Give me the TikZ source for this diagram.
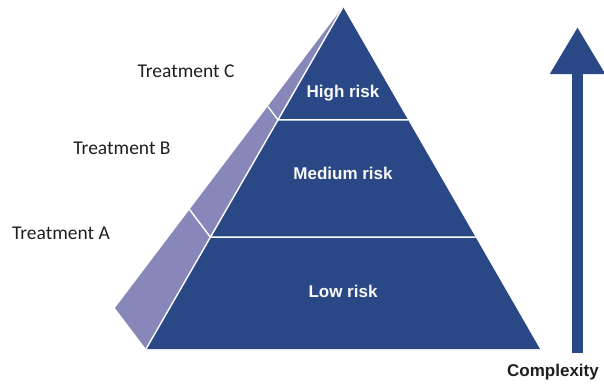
\documentclass[tikz,border=0pt]{standalone}
\usepackage{fontspec}
\setmainfont{Liberation Sans}
\newfontfamily\labelfont{Carlito}
\usetikzlibrary{calc,arrows.meta}

\definecolor{riskblue}{RGB}{42,72,134}
\definecolor{sideblue}{RGB}{135,135,186}
\definecolor{darktext}{RGB}{30,30,30}

\begin{document}
\begin{tikzpicture}[x=1pt, y=-1pt,
    level/.style={font=\bfseries\fontsize{17}{20}\selectfont, text=white!95!gray},
    treat/.style={font=\labelfont\fontsize{19.5}{22}\selectfont, text=darktext},
    divider/.style={white, line width=1.4pt}]
    \useasboundingbox (0,0) rectangle (604,384);
    % front face and side face of the pyramid
    \coordinate (A) at (343,7);
    \coordinate (B) at (146,349);
    \coordinate (C) at (540,349);
    \coordinate (S) at (115,308);
    \fill[sideblue] (A)--(S)--(B)--cycle;
    \fill[riskblue] (A)--(B)--(C)--cycle;
    % level boundaries
    \coordinate (P1) at ($(A)!0.330!(B)$);
    \coordinate (Q1) at ($(A)!0.330!(C)$);
    \coordinate (R1) at ($(A)!0.330!(S)$);
    \coordinate (P2) at ($(A)!0.673!(B)$);
    \coordinate (Q2) at ($(A)!0.673!(C)$);
    \coordinate (R2) at ($(A)!0.673!(S)$);
    \draw[divider] (A)--(B);
    \draw[divider] (R1)--(P1)--(Q1);
    \draw[divider] (R2)--(P2)--(Q2);
    \node[level] (high) at (343,93) {High risk};
    \node[level] (medium) at (343,173) {Medium risk};
    \node[level] (low) at (343,291) {Low risk};
    \node[treat] (tc) at (186,71) {Treatment C};
    \node[treat] (tb) at (122,148) {Treatment B};
    \node[treat] (ta) at (61,233) {Treatment A};
    % complexity arrow
    \coordinate (base) at (577.5,353);
    \coordinate (tip) at (577.5,27);
    \draw[riskblue, line width=11.5pt, -{Triangle[width=52pt, length=47pt]}] (base)--(tip);
    \node[font=\bfseries\fontsize{17}{20}\selectfont, text=darktext] (cx) at (553,372) {Complexity};
\end{tikzpicture}
\end{document}
